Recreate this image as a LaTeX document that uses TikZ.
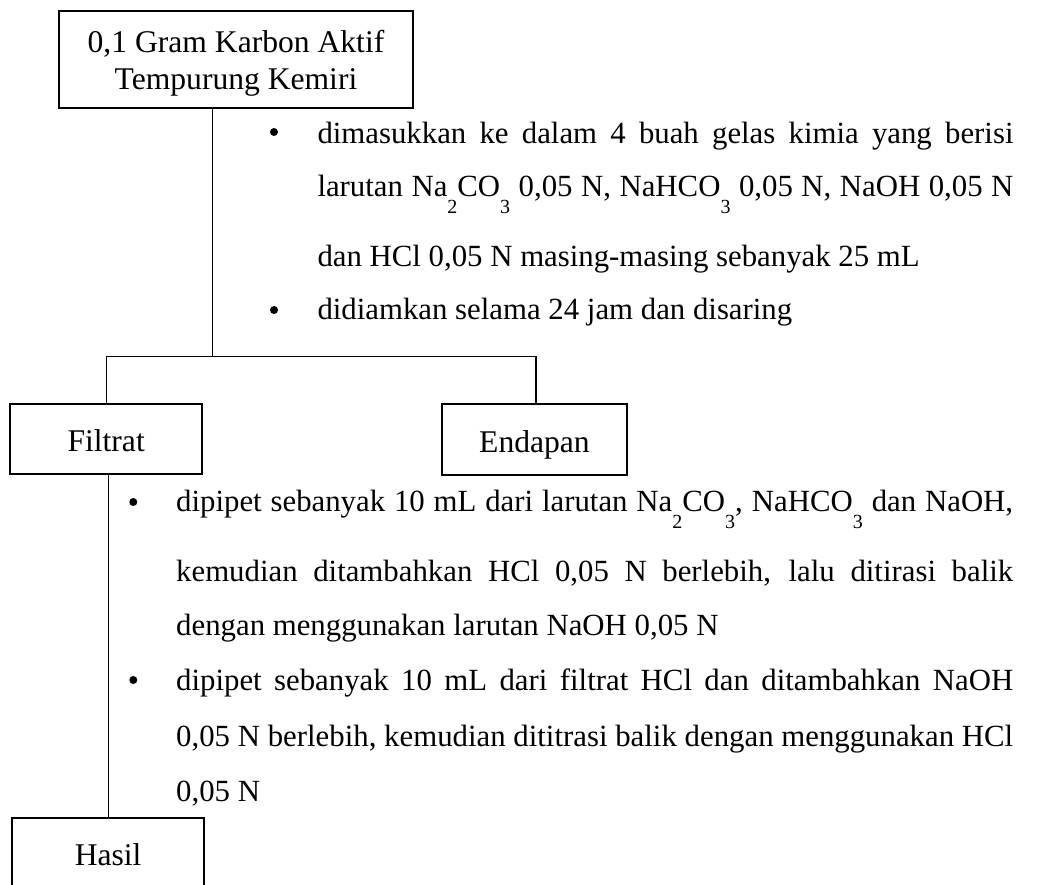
\documentclass[tikz,border=0pt]{standalone}
\usepackage{fontspec}
\setmainfont{Liberation Serif}
\newcommand\sbs[1]{\raisebox{-17pt}{\fontsize{20}{20}\selectfont #1}}
\begin{document}
\begin{tikzpicture}[x=1pt,y=-1pt,
  every node/.style={font=\fontsize{30.8}{37.7}\selectfont, inner sep=0pt},
  boxfont/.style={font=\fontsize{31.6}{37.7}\selectfont},
  box/.style={draw, line width=2.2pt, rectangle, boxfont, text height=25pt, text depth=0pt},
  conn/.style={line width=1.3pt},
  txtline/.style={anchor=base west},
  bul/.style={circle, fill=black, minimum size=8pt}]
\useasboundingbox (0,0) rectangle (1050,885);
\clip (0,0) rectangle (1050,885);
\fill[white] (0,0) rectangle (1050,885);

% boxes
\node[draw, line width=2.2pt, boxfont, minimum width=353.4pt, minimum height=97pt, align=center] (top) at (236,59.2)
  {\rule{0pt}{31pt}0,1 Gram Karbon Aktif\\Tempurung Kemiri\rule[-7.1pt]{0pt}{7.1pt}};
\node[box, minimum width=192.3pt, minimum height=70pt] (filtrat) at (106.15,439.3) {Filtrat};
\node[box, minimum width=185.6pt, minimum height=71pt] (endapan) at (534.5,439.5) {Endapan};
\node[box, minimum width=191.7pt, minimum height=70pt] (hasil) at (108.15,853.3) {Hasil};

% connectors
\coordinate (j) at (212.3,356.7);
\coordinate (jl) at (106.7,356.7);
\coordinate (jr) at (536,356.7);
\draw[conn] (j |- top.south) -- (j);
\draw[conn] (jl |- filtrat.north) -- (jl) -- (jr) -- (jr |- endapan.north);
\draw[conn] (hasil.north |- filtrat.south) -- (hasil.north);

% first block of steps
\node[bul] (ba1) at (274,132) {};
\node[bul] (ba2) at (274,310) {};
\node[txtline] (a1) at (317.3,143.3) {\makebox[696pt][s]{dimasukkan ke dalam 4 buah gelas kimia yang berisi}};
\node[txtline] (a2) at (317.3,196.7) {\makebox[696pt][s]{larutan Na\sbs{2}CO\sbs{3} 0,05 N, NaHCO\sbs{3} 0,05 N, NaOH 0,05 N}};
\node[txtline] (a3) at (317.3,266.7) {dan HCl 0,05 N masing-masing sebanyak 25 mL};
\node[txtline] (a4) at (317.3,320) {didiamkan selama 24 jam dan disaring};

% second block of steps
\node[bul] (bb1) at (133.3,502) {};
\node[bul] (bb2) at (133.3,680) {};
\node[txtline] (b1) at (176,511) {\makebox[837pt][s]{dipipet sebanyak 10 mL dari larutan Na\sbs{2}CO\sbs{3}, NaHCO\sbs{3} dan NaOH,}};
\node[txtline] (b2) at (176,581) {\makebox[837pt][s]{kemudian ditambahkan HCl 0,05 N berlebih, lalu ditirasi balik}};
\node[txtline] (b3) at (176,635) {dengan menggunakan larutan NaOH 0,05 N};
\node[txtline] (b4) at (176,690) {\makebox[837pt][s]{dipipet sebanyak 10 mL dari filtrat HCl dan ditambahkan NaOH}};
\node[txtline] (b5) at (176,746.7) {\makebox[837pt][s]{0,05 N berlebih, kemudian dititrasi balik dengan menggunakan HCl}};
\node[txtline] (b6) at (176,801.7) {0,05 N};
\end{tikzpicture}
\end{document}
